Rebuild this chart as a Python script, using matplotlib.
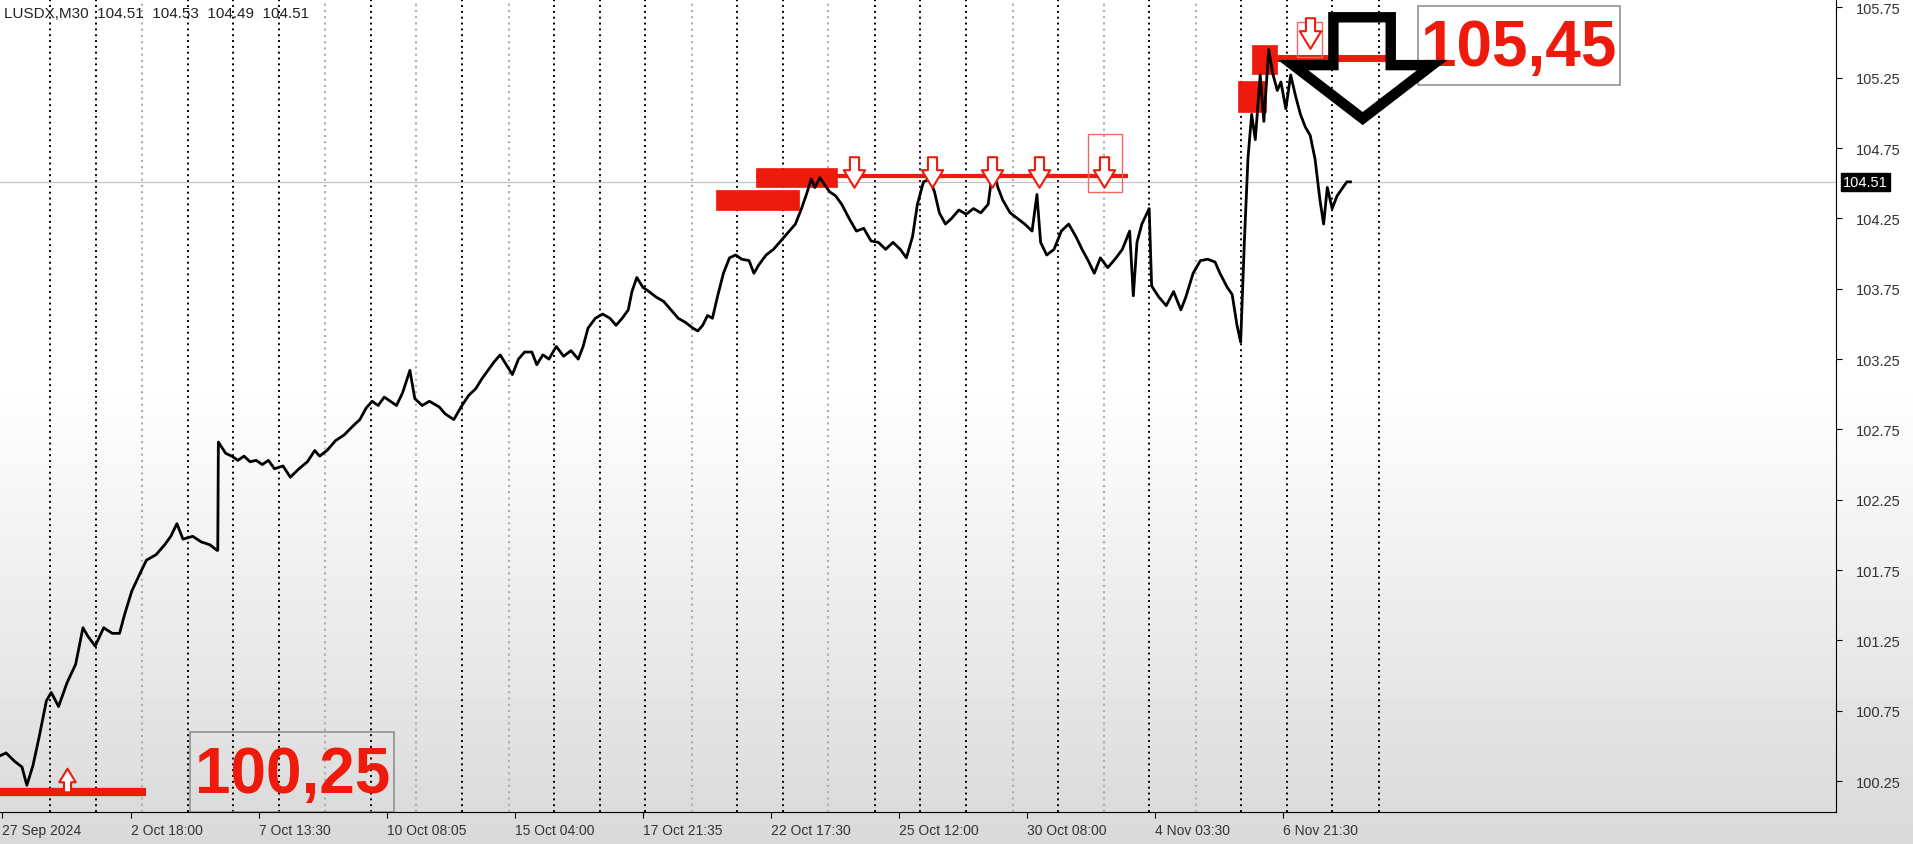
import numpy as np
import matplotlib.pyplot as plt
from matplotlib.path import Path
from matplotlib.patches import Rectangle, Polygon

plt.rcParams['font.family'] = ['Liberation Sans', 'DejaVu Sans']

# M30 close path: bar position, price
bars = [0, 5, 12, 18, 22, 27, 32, 38, 42, 48, 55, 62, 68, 72, 78, 85, 92, 98,
        102, 108, 115, 120, 128, 135, 140, 145, 150, 158, 165, 172, 178,
        178.5, 179, 182, 185, 190, 195, 200, 205, 210, 215, 220, 225, 232,
        238, 245, 252, 258, 262, 268, 275, 282, 290, 295, 300, 305, 310, 315,
        320, 325, 330, 336, 340, 346, 352, 360, 365, 372, 378, 384, 390, 395,
        400, 405, 410, 415, 420, 425, 430, 436, 440, 445, 450, 456, 462, 468,
        474, 478, 482, 488, 494, 500, 505, 510, 515, 518, 522, 527, 532, 538,
        544, 550, 556, 562, 568, 572, 576, 580, 584, 588, 593, 598, 603, 608,
        614, 618, 622, 628, 634, 640, 646, 652, 657, 661, 665, 668, 672, 676,
        680, 685, 690, 696, 702, 708, 714, 720, 726, 732, 738, 743, 748, 752,
        757, 762, 766, 770, 775, 780, 786, 792, 798, 804, 810, 814, 818, 822,
        828, 834, 840, 846, 850, 853, 858, 864, 870, 876, 882, 887, 892, 897,
        902, 908, 914, 920, 926, 929, 932, 936, 942, 944, 950, 956, 962, 968,
        972, 978, 984, 990, 996, 1000, 1006, 1010, 1014, 1017, 1020, 1023,
        1026, 1029, 1033, 1036, 1040, 1043, 1047, 1050, 1054, 1058, 1062,
        1066, 1070, 1074, 1078, 1082, 1085, 1088, 1092, 1096, 1100, 1104, 1107]
price = [100.43, 100.45, 100.39, 100.35, 100.22, 100.36, 100.56, 100.82,
         100.88, 100.78, 100.95, 101.08, 101.34, 101.28, 101.21, 101.34,
         101.30, 101.30, 101.43, 101.60, 101.73, 101.82, 101.86, 101.93,
         101.99, 102.08, 101.97, 101.99, 101.95, 101.93, 101.89,
         101.89, 102.66, 102.62, 102.58, 102.56, 102.53, 102.56, 102.52,
         102.53, 102.50, 102.53, 102.47, 102.49, 102.41, 102.47, 102.52,
         102.60, 102.56, 102.60, 102.67, 102.71, 102.78, 102.82, 102.90,
         102.95, 102.92, 102.98, 102.95, 102.92, 103.01, 103.17, 102.97,
         102.92, 102.95, 102.91, 102.86, 102.82, 102.91, 102.99, 103.04,
         103.11, 103.17, 103.23, 103.28, 103.21, 103.14, 103.25, 103.30,
         103.30, 103.21, 103.28, 103.25, 103.34, 103.27, 103.31, 103.25,
         103.34, 103.47, 103.54, 103.57, 103.54, 103.49, 103.54, 103.60,
         103.73, 103.83, 103.76, 103.73, 103.69, 103.66, 103.60, 103.54,
         103.51, 103.47, 103.45, 103.49, 103.56, 103.54, 103.69, 103.86,
         103.97, 103.99, 103.96, 103.95, 103.86, 103.92, 103.99, 104.03,
         104.09, 104.15, 104.21, 104.32, 104.42, 104.53, 104.47, 104.54,
         104.49, 104.44, 104.41, 104.35, 104.25, 104.16, 104.18, 104.09,
         104.08, 104.03, 104.08, 104.03, 103.97, 104.12, 104.35, 104.51,
         104.53, 104.44, 104.29, 104.21, 104.25, 104.31, 104.28, 104.32,
         104.29, 104.35, 104.61, 104.47, 104.38, 104.29, 104.25, 104.21,
         104.16, 104.42, 104.08, 103.99, 104.03, 104.16, 104.21, 104.12,
         104.03, 103.95, 103.86, 103.97, 103.90, 103.96, 104.03, 104.16,
         103.70, 104.08, 104.21, 104.32, 103.77, 103.69, 103.63, 103.73,
         103.60, 103.69, 103.86, 103.95, 103.96, 103.94, 103.86, 103.76,
         103.71, 103.49, 103.37, 104.08, 104.68, 104.99, 104.81, 105.27,
         104.94, 105.45, 105.29, 105.16, 105.22, 105.03, 105.27, 105.12,
         104.99, 104.90, 104.84, 104.67, 104.38, 104.21, 104.47, 104.32,
         104.41, 104.46, 104.51, 104.51]
last_price = 104.51

# day separators (grey = dimmer dotted lines)
day_sep = [41, 79, 116, 154, 191, 229, 266, 304, 341, 379, 417, 454, 492,
           529, 567, 604, 642, 679, 717, 754, 792, 830, 867, 905, 942, 980,
           1017, 1055, 1092, 1130]
grey_sep = [2, 6, 8, 10, 14, 17, 21, 23, 25]

# time axis labels
x_ticks = [2, 107, 212, 317, 422, 527, 632, 737, 842, 947, 1052]
x_labels = ['27 Sep 2024', '2 Oct 18:00', '7 Oct 13:30', '10 Oct 08:05',
            '15 Oct 04:00', '17 Oct 21:35', '22 Oct 17:30', '25 Oct 12:00',
            '30 Oct 08:00', '4 Nov 03:30', '6 Nov 21:30']
y_ticks = [100.25, 100.75, 101.25, 101.75, 102.25, 102.75, 103.25, 103.75,
           104.25, 104.75, 105.25, 105.75]

# drawn objects: zones (x0, x1, low, high), levels (x0, x1, price, width)
zones = [(620, 686, 104.47, 104.61), (587, 655, 104.31, 104.45),
         (1026, 1047, 105.28, 105.48), (1015, 1038, 105.01, 105.23)]
levels = [(0, 120, 100.17, 6), (620, 925, 104.55, 3), (1030, 1139, 105.39, 5)]
down_x = [700, 764, 813, 852, 905, 1074]
down_p = [104.58, 104.58, 104.58, 104.58, 104.58, 105.57]
up_x = [55]
up_p = [100.26]
sel_boxes = [(892, 920, 104.44, 104.85), (1063, 1084, 105.40, 105.65)]
labels = [('100,25', 156, 323, 100.03, 100.60), ('105,45', 1162, 1328, 105.20, 105.76)]
big_arrow_x = [1093, 1140, 1140, 1174, 1117, 1060, 1093]
big_arrow_p = [105.68, 105.68, 105.34, 105.34, 104.96, 105.34, 105.34]

red = '#ee1a0c'

fig = plt.figure(figsize=(19.13, 8.45), dpi=100)

# grey-ish gradient background like the terminal
bg = fig.add_axes([0, 0, 1, 1])
grad = np.concatenate([np.ones(45), np.linspace(1.0, 0.85, 55)])[:, None]
bg.imshow(grad, aspect='auto', cmap='gray', vmin=0, vmax=1, extent=[0, 1, 0, 1])
bg.axis('off')

ax = fig.add_axes([0, 32 / 845, 1836 / 1913, 813 / 845])
ax.set_facecolor('none')
ax.set_xlim(0, 1505)
ax.set_ylim(100.03, 105.81)

for i, xs in enumerate(day_sep):
    if i in grey_sep:
        ax.axvline(xs, color='#adadad', lw=1.5, ls=(0, (1, 2)), zorder=1)
    else:
        ax.axvline(xs, color='#000000', lw=1.4, ls=(0, (1, 2)), zorder=1)

ax.axhline(last_price, color='#c4c4c4', lw=0.9, zorder=1)

# zones and levels
for x0, x1, lo, hi in zones:
    ax.add_patch(Rectangle((x0, lo), x1 - x0, hi - lo, facecolor=red,
                           edgecolor=red, lw=0.5, zorder=3))
for x0, x1, p, w in levels:
    ax.plot([x0, x1], [p, p], color=red, lw=w, solid_capstyle='butt', zorder=3)
for x0, x1, lo, hi in sel_boxes:
    ax.add_patch(Rectangle((x0, lo), x1 - x0, hi - lo, facecolor='none',
                           edgecolor='#f06a60', lw=1.0, zorder=3))

# price
ax.plot(bars, price, color='black', lw=2.0, zorder=4)

# hollow arrow markers
arrow_verts = [(-0.3, 1), (0.3, 1), (0.3, 0.15), (0.7, 0.15), (0, -1),
               (-0.7, 0.15), (-0.3, 0.15), (-0.3, 1)]
down_marker = Path(arrow_verts, closed=True)
up_marker = Path([(vx, -vy) for vx, vy in arrow_verts], closed=True)
ax.plot(down_x, down_p, ls='none', marker=down_marker, ms=22, mfc='white',
        mec=red, mew=1.5, zorder=5)
ax.plot(up_x, up_p, ls='none', marker=up_marker, ms=17, mfc='white',
        mec=red, mew=1.5, zorder=5)

# text labels with boxes
for txt, x0, x1, lo, hi in labels:
    ax.add_patch(Rectangle((x0, lo), x1 - x0, hi - lo, facecolor='none',
                           edgecolor='#8a8a8a', lw=1.1, zorder=5))
    ax.text((x0 + x1) / 2, (lo + hi) / 2 - 0.02, txt, color=red, fontsize=46,
            fontweight='bold', ha='center', va='center', zorder=6)

# big black outline arrow
ax.add_patch(Polygon(list(zip(big_arrow_x, big_arrow_p)), closed=True,
                     facecolor='none', edgecolor='black', lw=7.5,
                     joinstyle='miter', zorder=7))

# axes look
for s in ['top', 'left']:
    ax.spines[s].set_visible(False)
ax.spines['right'].set_color('black')
ax.spines['bottom'].set_color('black')
ax.yaxis.tick_right()
ax.set_yticks(y_ticks)
ax.set_yticklabels(['%.2f' % v for v in y_ticks])
ax.tick_params(axis='y', length=4, pad=10, labelsize=10.5, labelcolor='#333333')
ax.set_xticks(x_ticks)
ax.set_xticklabels(x_labels)
for lab in ax.get_xticklabels():
    lab.set_horizontalalignment('left')
ax.tick_params(axis='x', length=4, pad=4, labelsize=10, labelcolor='#333333')

ax.text(1.004, last_price, '%.2f' % last_price, transform=ax.get_yaxis_transform(),
        ha='left', va='center', color='white', fontsize=10.5, clip_on=False,
        bbox=dict(facecolor='black', edgecolor='black', pad=1.6), zorder=8)

ax.text(0.002, 0.992, 'LUSDX,M30  104.51  104.53  104.49  104.51',
        transform=ax.transAxes, ha='left', va='top', fontsize=11,
        color='#222222', zorder=8)

plt.savefig('out.png', dpi=100)
